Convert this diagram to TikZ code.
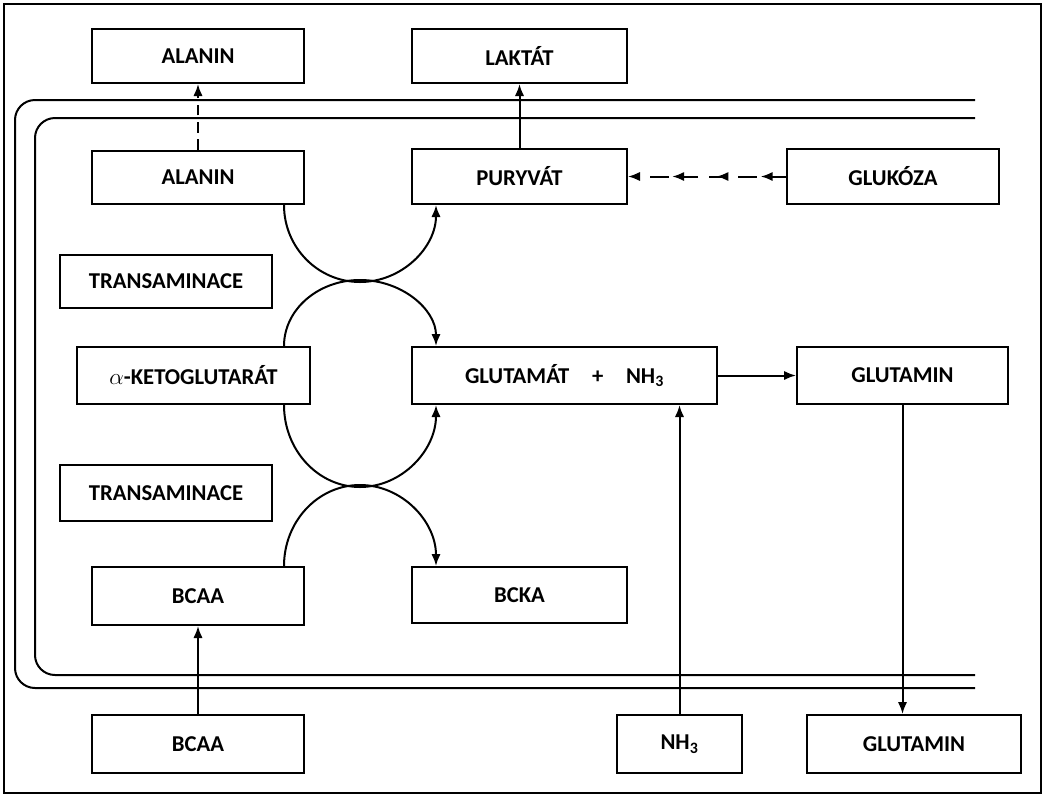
\documentclass[tikz,border=0pt]{standalone}
\usepackage{fontspec}
\setmainfont{Carlito}
\usetikzlibrary{arrows.meta,decorations.markings}
\tikzset{every picture/.style={line width=1.5pt}}
\tikzset{
  box/.style={draw,line width=1.5pt,inner sep=0pt,font=\bfseries\fontsize{17}{19}\selectfont},
  arr/.style={-{Latex[length=9pt,width=7pt]}},
  manyarr/.style={arr,dash pattern=on 14pt off 8pt,postaction={decorate},
    decoration={markings,
      mark=at position 0.16 with {\arrow{Latex[length=9pt,width=7pt]}},
      mark=at position 0.44 with {\arrow{Latex[length=9pt,width=7pt]}},
      mark=at position 0.72 with {\arrow{Latex[length=9pt,width=7pt]}}}}
}
\newcommand{\bx}[5]{\node[box,minimum width=#3*0.75pt,minimum height=#4*0.75pt,anchor=north west] (#1) at (#2) {#5};}

\begin{document}
\begin{tikzpicture}[x=0.75pt,y=0.75pt,yscale=-1,xscale=1]
	\useasboundingbox (0,0) rectangle (1049,800);
	%Shape: outer frame
	\draw[line width=1pt] (4,4) rectangle (1041,793);
	%Shape: membrane
	\draw (975,100) -- (35,100) arc (270:180:20) -- (15,668) arc (180:90:20) -- (975,688);
	\draw (975,118) -- (55,118) arc (270:180:20) -- (35,655) arc (180:90:20) -- (975,675);

	% Boxes
	\bx{alaout}{91,28}{212}{54}{ALANIN}
	\bx{lak}{411,28}{215}{54}{LAKTÁT}
	\bx{alain}{91,150}{212}{53}{ALANIN}
	\bx{pyr}{411,148}{215}{55}{PURYVÁT}
	\bx{glc}{786,148}{212}{55}{GLUKÓZA}
	\bx{trans1}{59,254}{212}{53}{TRANSAMINACE}
	\bx{akg}{76,346}{233}{57}{$\alpha$-KETOGLUTARÁT}
	\bx{glu}{411,346}{305}{57}{GLUTAMÁT\quad +\quad NH$_\mathbf{3}$}
	\bx{gln}{796,346}{211}{57}{GLUTAMIN}
	\bx{trans2}{59,464}{212}{56}{TRANSAMINACE}
	\bx{bcaain}{91,566}{212}{58}{BCAA}
	\bx{bcka}{411,566}{215}{56}{BCKA}
	\bx{bcaaout}{91,714}{212}{58}{BCAA}
	\bx{nh}{616,714}{125}{58}{NH$_\mathbf{3}$}
	\bx{glnout}{806,714}{214}{58}{GLUTAMIN}

	% Connectors
	\draw[arr,dash pattern=on 8pt off 5pt] (alain.north-|alaout) -- (alaout.south);
	\draw[arr] (pyr.north) -- (lak.south);
	\draw[manyarr] (glc.west) -- (pyr.east);
	\draw[arr] (glu.east) -- (gln.west);
	\draw[arr] (nh.north) -- (nh.north|-glu.south);
	\draw[arr] (gln.south) -- (gln.south|-glnout.north);
	\draw[arr] (bcaaout.north) -- (bcaain.south);

	% Transamination arcs
	\draw[arr] (alain.south-|284,0) arc (180:0:76 and 77);
	\draw[arr] (akg.north-|284,0) arc (180:360:76 and 66);
	\draw[arr] (akg.south-|284,0) arc (180:0:76 and 82);
	\draw[arr] (bcaain.north-|284,0) arc (180:360:76 and 81);
\end{tikzpicture}
\end{document}
